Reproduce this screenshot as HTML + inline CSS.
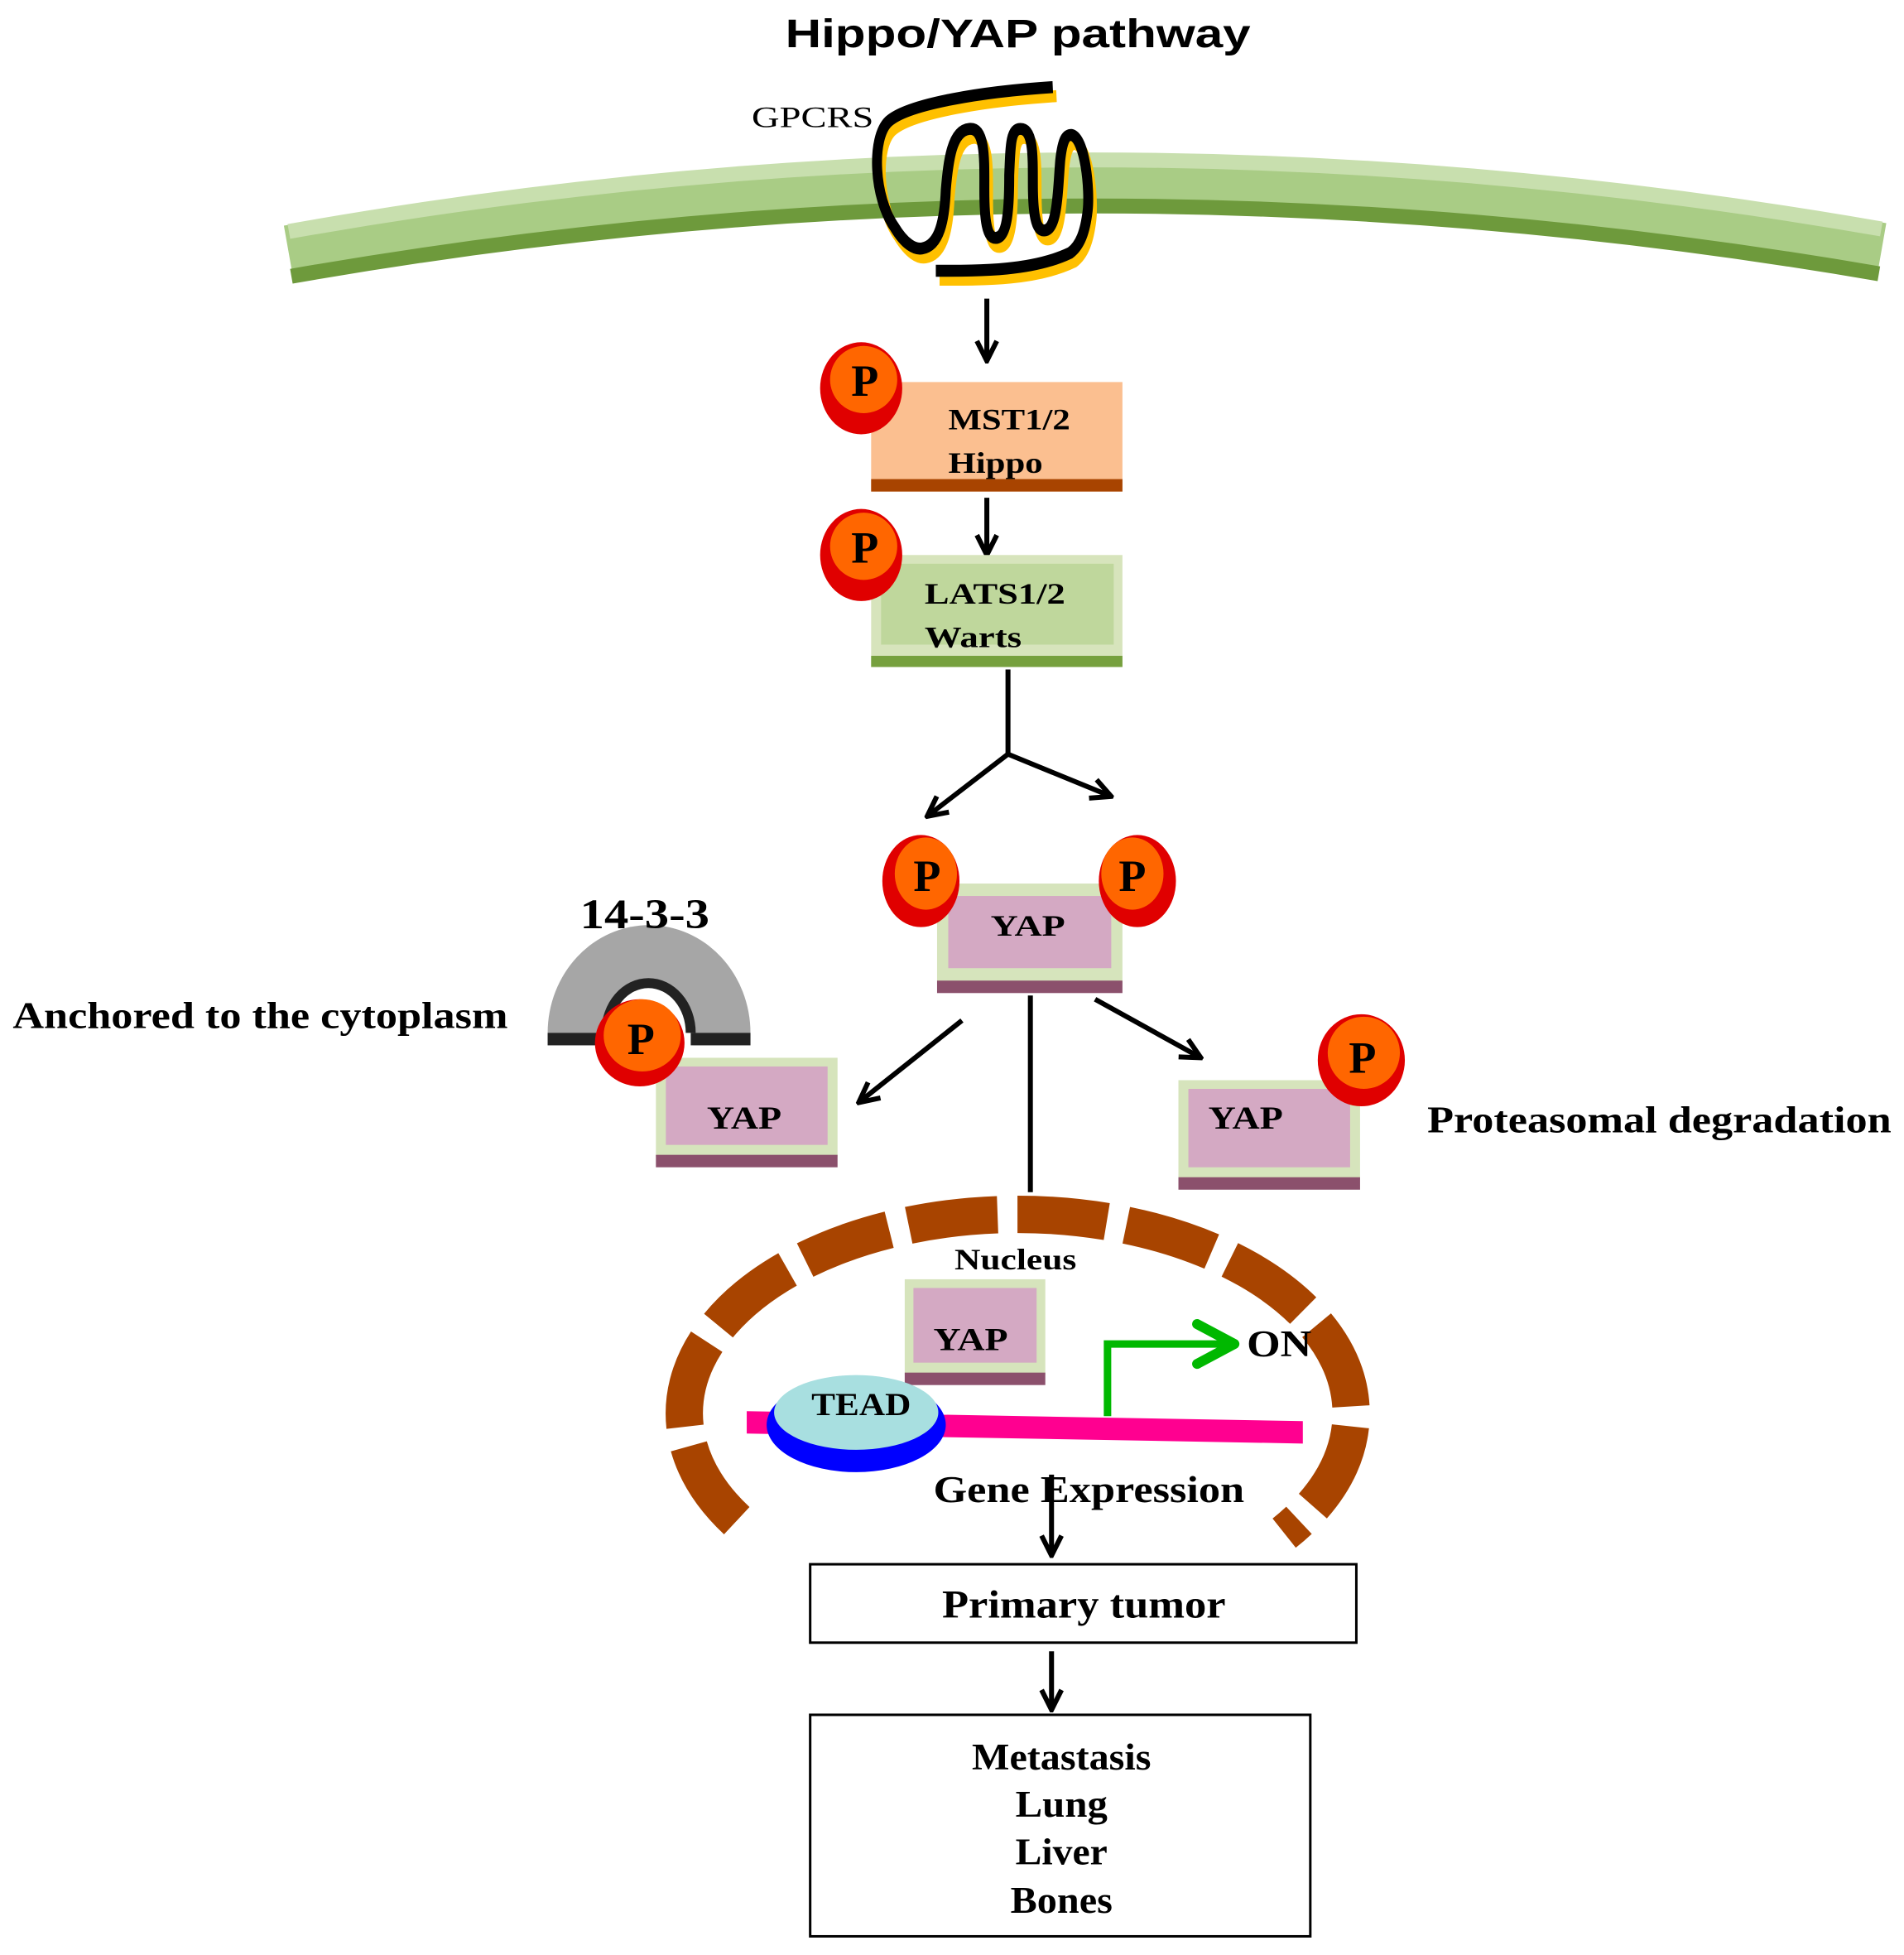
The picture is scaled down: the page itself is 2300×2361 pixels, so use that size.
<!DOCTYPE html>
<html><head><meta charset="utf-8"><style>html,body{margin:0;padding:0;background:#fff}svg{display:block}</style></head>
<body>
<svg width="2300" height="2361" viewBox="0 0 1530 1571" xmlns="http://www.w3.org/2000/svg">
<defs>
<marker id="ah" viewBox="0 0 10 10" refX="9" refY="5" markerWidth="5" markerHeight="5" orient="auto" markerUnits="strokeWidth">
<path d="M1,1 L9,5 L1,9" fill="none" stroke="#000" stroke-width="2"/>
</marker>
</defs>
<rect width="1530" height="1571" fill="#fff"/>
<g font-family="'Liberation Serif',serif" font-weight="bold" fill="#000">
<text x="818" y="38" font-family="'Liberation Sans',sans-serif" font-size="32" text-anchor="middle" textLength="374" lengthAdjust="spacingAndGlyphs">Hippo/YAP pathway</text>
<!-- membrane -->
<path d="M232,204 Q872,90 1512,202" fill="none" stroke="#a9cc85" stroke-width="46"/>
<path d="M232,186 Q872,72 1512,184" fill="none" stroke="#c8dfae" stroke-width="12"/>
<path d="M234,222 Q872,110 1510,220" fill="none" stroke="#6e9a3c" stroke-width="12"/>
<!-- GPCR -->
<g fill="none" stroke-width="8" stroke-linejoin="round" stroke-linecap="butt" transform="translate(0,70) scale(1,1.2) translate(0,-61)">
<path transform="translate(3,6)" stroke="#ffc000" d="M846,61 C790,64 730,72 714,84 C700,95 702,135 719,155 C727,166 735,170 741,169 C755,167 759,150 760,130 C762,110 765,90 779,89 C792,88 791,110 791,130 C791,150 793,162 800,162 C810,162 811,140 811,120 C812,100 812,89 820,89 C830,89 830,105 830,125 C830,145 832,157 839,157 C850,157 850,130 852,110 C854,95 857,93 861,93 C872,95 876,130 874,144 C872,158 868,167 860,172 C830,184 790,184 752,184"/>
<path stroke="#000" d="M846,61 C790,64 730,72 714,84 C700,95 702,135 719,155 C727,166 735,170 741,169 C755,167 759,150 760,130 C762,110 765,90 779,89 C792,88 791,110 791,130 C791,150 793,162 800,162 C810,162 811,140 811,120 C812,100 812,89 820,89 C830,89 830,105 830,125 C830,145 832,157 839,157 C850,157 850,130 852,110 C854,95 857,93 861,93 C872,95 876,130 874,144 C872,158 868,167 860,172 C830,184 790,184 752,184"/>
</g>
<text x="604" y="102" font-weight="normal" font-size="24" textLength="98" lengthAdjust="spacingAndGlyphs">GPCRS</text>
<!-- arrows -->
<g stroke="#000" stroke-width="4" fill="none" marker-end="url(#ah)">
<line x1="793" y1="240" x2="793" y2="290"/>
<line x1="793" y1="400" x2="793" y2="446"/>
<line x1="810" y1="606" x2="745" y2="656"/>
<line x1="810" y1="606" x2="893" y2="640"/>
<line x1="773" y1="820" x2="690" y2="886"/>
<line x1="880" y1="803" x2="965" y2="850"/>
<line x1="845" y1="1185" x2="845" y2="1250"/>
<line x1="845" y1="1327" x2="845" y2="1374"/>
</g>
<line x1="810" y1="538" x2="810" y2="608" stroke="#000" stroke-width="4"/>
<line x1="828" y1="800" x2="828" y2="958" stroke="#000" stroke-width="4"/>
<!-- MST -->
<rect x="700" y="307" width="202" height="88" fill="#fbbf90"/>
<rect x="700" y="385" width="202" height="10" fill="#a84400"/>
<text x="762" y="345" font-size="24" textLength="98" lengthAdjust="spacingAndGlyphs">MST1/2</text>
<text x="762" y="380" font-size="24" textLength="76" lengthAdjust="spacingAndGlyphs">Hippo</text>
<!-- LATS -->
<rect x="700" y="446" width="202" height="90" fill="#d7e4bc"/>
<rect x="708" y="453" width="187" height="65" fill="#bfd79c"/>
<rect x="700" y="527" width="202" height="9" fill="#76a03e"/>
<text x="743" y="485" font-size="24" textLength="113" lengthAdjust="spacingAndGlyphs">LATS1/2</text>
<text x="743" y="520" font-size="24" textLength="78" lengthAdjust="spacingAndGlyphs">Warts</text>
<!-- YAP top -->
<rect x="753" y="710" width="149" height="80" fill="#d6e4bc"/>
<rect x="762" y="720" width="131" height="58" fill="#d4a9c3"/>
<rect x="753" y="788" width="149" height="10" fill="#8b506c"/>
<text x="826" y="752" font-size="24" text-anchor="middle" textLength="60" lengthAdjust="spacingAndGlyphs">YAP</text>
<!-- 14-3-3 -->
<path d="M440,840 L440,830 A80,85 0 0 1 603,830 L603,840 L557,840 L557,830 A36,40 0 0 0 485,830 L485,840 Z" fill="#a6a6a6"/>
<rect x="440" y="830" width="48" height="10" fill="#222"/>
<rect x="555" y="830" width="48" height="10" fill="#222"/>
<path d="M483,830 A38,44 0 0 1 559,830 L551,830 A30,36 0 0 0 491,830 Z" fill="#222"/>
<text x="466" y="746" font-size="34" textLength="104" lengthAdjust="spacingAndGlyphs">14-3-3</text>
<text x="10" y="826" font-size="30" textLength="398" lengthAdjust="spacingAndGlyphs">Anchored to the cytoplasm</text>
<!-- YAP left -->
<rect x="527" y="850" width="146" height="80" fill="#d6e4bc"/>
<rect x="535" y="857" width="130" height="63" fill="#d4a9c3"/>
<rect x="527" y="928" width="146" height="10" fill="#8b506c"/>
<text x="598" y="907" font-size="26" text-anchor="middle" textLength="60" lengthAdjust="spacingAndGlyphs">YAP</text>
<!-- YAP right -->
<rect x="947" y="868" width="146" height="80" fill="#d6e4bc"/>
<rect x="955" y="875" width="130" height="63" fill="#d4a9c3"/>
<rect x="947" y="946" width="146" height="10" fill="#8b506c"/>
<text x="1001" y="907" font-size="26" text-anchor="middle" textLength="60" lengthAdjust="spacingAndGlyphs">YAP</text>
<text x="1147" y="910" font-size="30" textLength="373" lengthAdjust="spacingAndGlyphs">Proteasomal degradation</text>
<!-- P circles -->
<g font-size="36">
<ellipse cx="692" cy="312" rx="33" ry="37" fill="#e00000"/><circle cx="694" cy="305" r="27" fill="#ff6600"/><text x="695" y="318" text-anchor="middle">P</text>
<ellipse cx="692" cy="446" rx="33" ry="37" fill="#e00000"/><circle cx="694" cy="439" r="27" fill="#ff6600"/><text x="695" y="452" text-anchor="middle">P</text>
<ellipse cx="740" cy="708" rx="31" ry="37" fill="#e00000"/><ellipse cx="744" cy="702" rx="25" ry="29" fill="#ff6600"/><text x="745" y="716" text-anchor="middle">P</text>
<ellipse cx="914" cy="708" rx="31" ry="37" fill="#e00000"/><ellipse cx="910" cy="702" rx="25" ry="29" fill="#ff6600"/><text x="910" y="716" text-anchor="middle">P</text>
<ellipse cx="514" cy="838" rx="36" ry="35" fill="#e00000"/><ellipse cx="516" cy="832" rx="31" ry="29" fill="#ff6600"/><text x="515" y="847" text-anchor="middle">P</text>
<ellipse cx="1094" cy="852" rx="35" ry="37" fill="#e00000"/><ellipse cx="1096" cy="846" rx="29" ry="29" fill="#ff6600"/><text x="1095" y="862" text-anchor="middle">P</text>
</g>
<!-- nucleus -->
<path d="M592,1212 A268,160 0 1 1 1032,1222" fill="none" stroke="#a84400" stroke-width="30" stroke-dasharray="72 16" transform="translate(0,10)"/>
<text x="816" y="1020" font-size="24" text-anchor="middle" textLength="98" lengthAdjust="spacingAndGlyphs">Nucleus</text>
<rect x="727" y="1028" width="113" height="77" fill="#d6e4bc"/>
<rect x="734" y="1035" width="99" height="60" fill="#d4a9c3"/>
<rect x="727" y="1103" width="113" height="10" fill="#8b506c"/>
<text x="780" y="1085" font-size="26" text-anchor="middle" textLength="60" lengthAdjust="spacingAndGlyphs">YAP</text>
<polygon points="600,1134 1047,1142 1047,1160 600,1152" fill="#ff0090"/>
<ellipse cx="688" cy="1145" rx="72" ry="38" fill="#0000ff"/>
<ellipse cx="688" cy="1135" rx="66" ry="30" fill="#a8dfe0"/>
<text x="692" y="1137" font-size="26" text-anchor="middle" textLength="80" lengthAdjust="spacingAndGlyphs">TEAD</text>
<path d="M890,1138 L890,1080 L990,1080" fill="none" stroke="#00b800" stroke-width="6"/>
<path d="M962,1064 L992,1080 L962,1096" fill="none" stroke="#00b800" stroke-width="8" stroke-linecap="round" stroke-linejoin="round"/>
<text x="1002" y="1090" font-size="30" textLength="52" lengthAdjust="spacingAndGlyphs">ON</text>
<text x="875" y="1207" font-size="30" text-anchor="middle" textLength="250" lengthAdjust="spacingAndGlyphs">Gene Expression</text>
<!-- boxes -->
<rect x="651" y="1257" width="439" height="63" fill="none" stroke="#000" stroke-width="2"/>
<text x="871" y="1300" font-size="32" text-anchor="middle" textLength="228" lengthAdjust="spacingAndGlyphs">Primary tumor</text>
<rect x="651" y="1378" width="402" height="178" fill="none" stroke="#000" stroke-width="2"/>
<text x="853" y="1422" font-size="30" text-anchor="middle" textLength="144" lengthAdjust="spacingAndGlyphs">Metastasis</text>
<text x="853" y="1460" font-size="30" text-anchor="middle" textLength="74" lengthAdjust="spacingAndGlyphs">Lung</text>
<text x="853" y="1498" font-size="30" text-anchor="middle" textLength="74" lengthAdjust="spacingAndGlyphs">Liver</text>
<text x="853" y="1537" font-size="30" text-anchor="middle" textLength="82" lengthAdjust="spacingAndGlyphs">Bones</text>
</g>
</svg>
</body></html>
